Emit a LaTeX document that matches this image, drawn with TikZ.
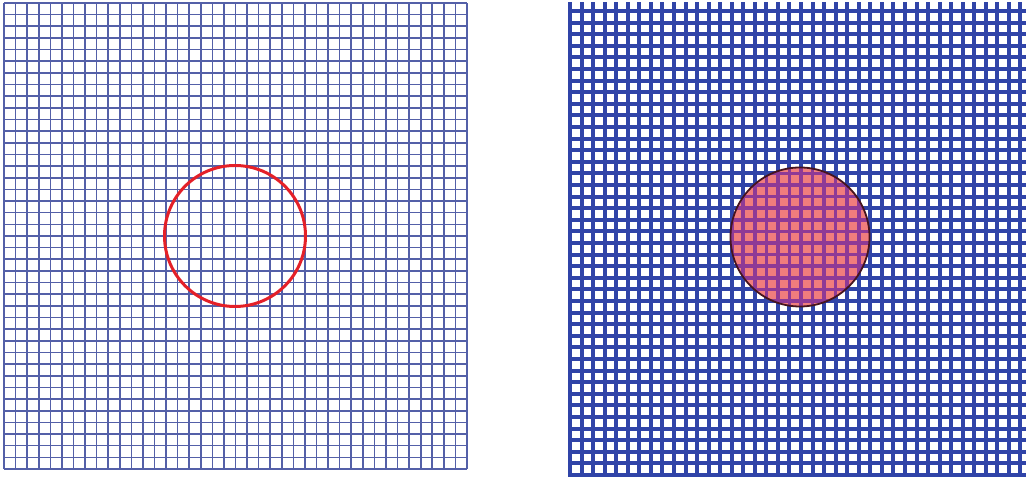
\documentclass[tikz,border=0pt]{standalone}
\usepackage{tikz}
\definecolor{MeshBlue}{RGB}{84,96,168}
\definecolor{DeepBlue}{RGB}{48,68,168}
\definecolor{RingRed}{RGB}{228,32,40}
\definecolor{BlobPink}{RGB}{240,125,125}
\definecolor{BlobMesh}{RGB}{142,58,150}
\definecolor{BlobEdge}{RGB}{70,20,30}

\begin{document}
\begin{tikzpicture}[x=1pt,y=1pt]
      \useasboundingbox (0,0) rectangle (1026,478);

      % fine mesh with ring
      \foreach \i in {0,...,40} {
        \draw[MeshBlue,line width=1.6pt] ({4+\i*11.575},9)--({4+\i*11.575},475);
        \draw[MeshBlue,line width=1.6pt] (4,{9+\i*11.65})--(467,{9+\i*11.65});
      }
      \draw[RingRed,line width=3pt] (235,242) circle (70.5);

      % coarse mesh with filled disc
      \begin{scope}
        \clip (566,0) rectangle (1026,478);
        \foreach \i in {0,...,40} {
          \draw[DeepBlue,line width=4pt] ({570+\i*11.55},1)--({570+\i*11.55},476);
          \draw[DeepBlue,line width=4pt] (568,{3+\i*11.6})--(1030,{3+\i*11.6});
        }
      \end{scope}
      \fill[BlobPink] (800,241) circle (69.5);
      \begin{scope}
        \clip (800,241) circle (69.5);
        \foreach \i in {0,...,40} {
          \draw[BlobMesh,line width=3.6pt] ({570+\i*11.55},1)--({570+\i*11.55},476);
          \draw[BlobMesh,line width=3.6pt] (568,{3+\i*11.6})--(1030,{3+\i*11.6});
        }
      \end{scope}
      \draw[BlobEdge,line width=1.8pt] (800,241) circle (69.5);
    \end{tikzpicture}
\end{document}
